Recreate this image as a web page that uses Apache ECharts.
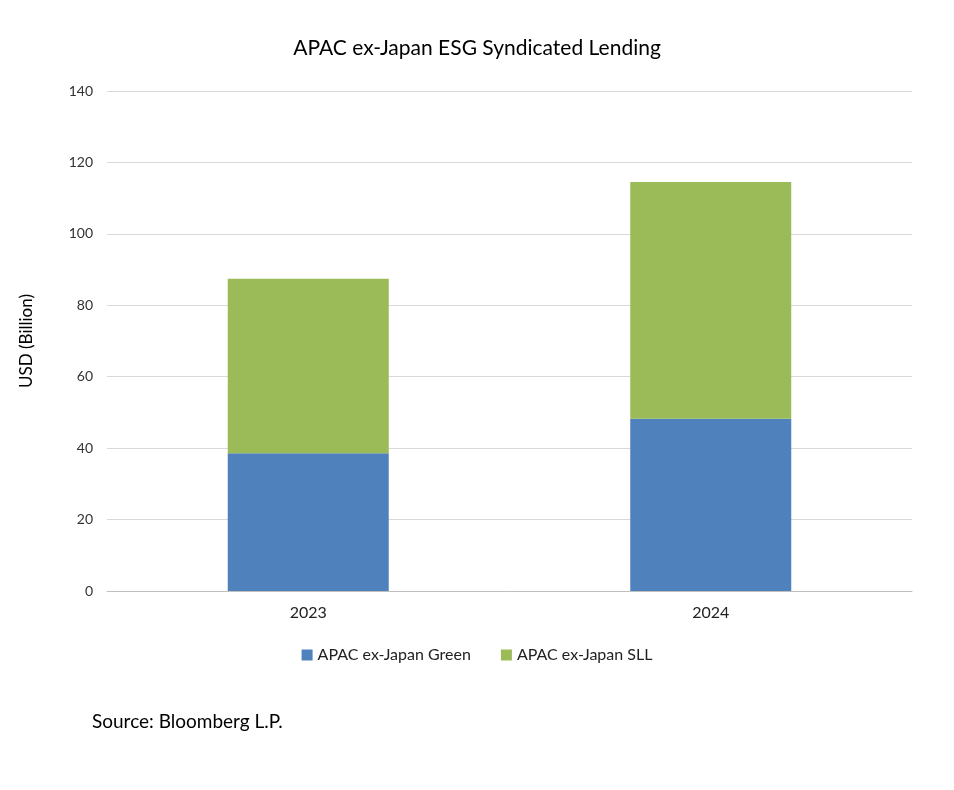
<!DOCTYPE html>
<html>
<head>
<meta charset="utf-8">
<script src="https://cdn.jsdelivr.net/npm/echarts@6/dist/echarts.min.js"></script>
<style>
  body { margin: 0; background: #fff; }
  #chart { width: 954px; height: 790px; }
</style>
</head>
<body>
<div id="chart"></div>
<script>
var years = ['2023', '2024'];
var greenValues = [38.6, 48.2];
var sllValues = [48.8, 66.3];

var chart = echarts.init(document.getElementById('chart'));
chart.setOption({
    backgroundColor: '#fff',
    textStyle: { fontFamily: 'Lato, sans-serif' },
    title: {
        text: 'APAC ex-Japan ESG Syndicated Lending',
        left: 'center',
        top: 33,
        textStyle: { fontSize: 21, fontWeight: 'normal', color: '#000' }
    },
    graphic: [{
        type: 'text',
        left: 92,
        top: 712,
        style: { text: 'Source: Bloomberg L.P.', fontSize: 19, fill: '#000', fontFamily: 'Lato, sans-serif' }
    }],
    legend: {
        bottom: 122,
        left: 'center',
        itemWidth: 11,
        itemHeight: 11,
        itemGap: 30,
        icon: 'rect',
        textStyle: { fontSize: 16, color: '#222' },
        data: ['APAC ex-Japan Green', 'APAC ex-Japan SLL']
    },
    grid: { left: 107, right: 42, top: 91, bottom: 199 },
    xAxis: {
        type: 'category',
        data: years,
        axisLine: { lineStyle: { color: '#bfbfbf' } },
        axisTick: { show: false },
        axisLabel: { fontSize: 16, color: '#222', margin: 14 }
    },
    yAxis: {
        type: 'value',
        min: 0,
        max: 140,
        interval: 20,
        name: 'USD (Billion)',
        nameLocation: 'middle',
        nameGap: 72,
        nameTextStyle: { fontSize: 17, color: '#000' },
        axisLine: { show: false },
        axisTick: { show: false },
        axisLabel: { fontSize: 14, color: '#333', margin: 14 },
        splitLine: { lineStyle: { color: '#d9d9d9' } }
    },
    series: [{
        name: 'APAC ex-Japan Green',
        type: 'bar',
        stack: 'total',
        barWidth: '40%',
        itemStyle: { color: '#4f81bd' },
        data: greenValues
    }, {
        name: 'APAC ex-Japan SLL',
        type: 'bar',
        stack: 'total',
        itemStyle: { color: '#9bbb59' },
        data: sllValues
    }]
});
</script>
</body>
</html>
